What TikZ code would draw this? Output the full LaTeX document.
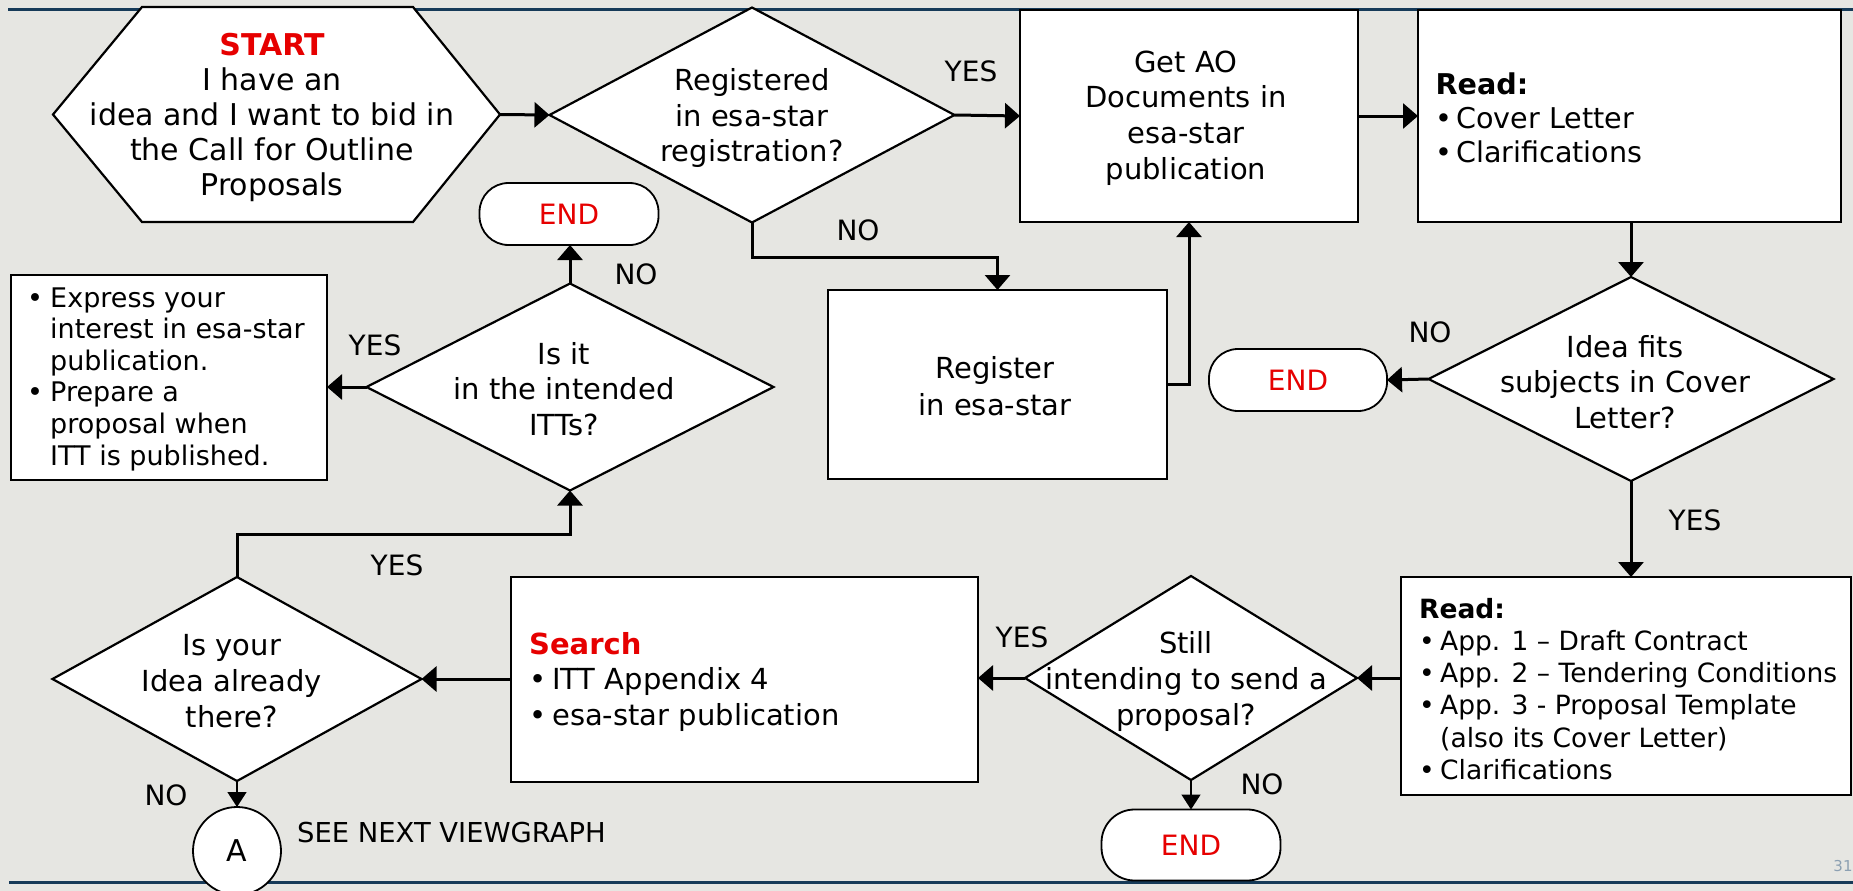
\documentclass[tikz,border=0pt]{standalone}
\usepackage{fontspec}
\setmainfont{DejaVu Sans}
\usetikzlibrary{shapes.geometric,arrows.meta}
\definecolor{bg}{RGB}{230,230,226}
\definecolor{esared}{RGB}{230,0,0}
\definecolor{rulecol}{RGB}{22,58,88}
\definecolor{pgnum}{RGB}{140,160,178}
\newcommand\fsz[2]{\fontsize{#1}{#2}\selectfont}
\newcommand\bul[1]{\makebox[#1][l]{•}}
\begin{document}
\begin{tikzpicture}[x=1pt,y=-1pt,
  box/.style={draw=black, fill=white, line width=2.2pt, inner sep=0pt, outer sep=0pt},
  dia/.style={box, diamond},
  term/.style={box, rounded corners=29pt, line width=1.8pt, font=\fsz{28}{34}, text=esared},
  conn/.style={line width=3pt, -{Triangle[length=15pt,width=25pt]}},
  thinconn/.style={line width=1.6pt, -{Triangle[length=15pt,width=19pt]}},
  txt/.style={inner sep=0pt, align=center, font=\fsz{29}{35.5}},
  ltxt/.style={inner sep=0pt, align=left, anchor=west, font=\fsz{29}{34}},
  lbl/.style={inner sep=0pt, font=\fsz{28}{34}},
]
\fill[bg] (0,0) rectangle (1853,891);
\useasboundingbox (0,0) rectangle (1853,891);
\draw[rulecol, line width=3pt] (8,10) -- (1853,10);
\draw[rulecol, line width=3pt] (9,882) -- (1853,882);

% START hexagon
\node[inner sep=0pt, outer sep=0pt, minimum width=447, minimum height=215] (start) at (276.5,114.5) {};
\draw[box] (start.west) -- ([xshift=89pt]start.north west) -- ([xshift=-87pt]start.north east)
  -- (start.east) -- ([xshift=-87pt]start.south east) -- ([xshift=89pt]start.south west) -- cycle;
\node[txt, font=\fsz{30}{35}] (startt) at (272,117)
  {{\bfseries\color{esared}START}\\I have an\\idea and I want to bid in\\the Call for Outline\\Proposals};

% Registered?
\node[dia, minimum width=405, minimum height=215] (d1) at (752,115) {};
\node[txt] (d1t) at (752,118) {Registered\\in esa-star\\registration?};

% Get AO documents
\node[box, minimum width=338, minimum height=212] (ao) at (1189,116) {};
\node[txt, font=\fsz{29}{35.7}] (aot) at (1186,118) {Get AO\\Documents in\\esa-star\\publication};

% Read 1
\node[box, minimum width=423, minimum height=212] (read1) at (1629.5,116) {};
\node[ltxt, font=\fsz{28.6}{34}] (read1t) at (1435.5,118)
  {\textbf{Read:}\\\bul{20.5pt}Cover Letter\\\bul{20.5pt}Clarifications};

% Idea fits?
\node[dia, minimum width=405, minimum height=204] (d2) at (1631,379) {};
\node[txt] (d2t) at (1625,382) {Idea fits\\subjects in Cover\\Letter?};
\node[term, minimum width=178, minimum height=62] (end2) at (1298,380) {END};

% Read 2
\node[box, minimum width=450, minimum height=218] (read2) at (1626,686) {};
\node[ltxt, font=\fsz{26.5}{32.2}] (read2t) at (1419,689)
  {\textbf{Read:}\\\bul{21pt}App. 1 – Draft Contract\\\bul{21pt}App. 2 – Tendering Conditions\\\bul{21pt}App. 3 - Proposal Template\\\hspace*{21pt}(also its Cover Letter)\\\bul{21pt}Clarifications};

% Still intending?
\node[dia, minimum width=332, minimum height=204] (d3) at (1191,678) {};
\node[txt, font=\fsz{29}{36}] (d3t) at (1186,681) {Still\\intending to send a\\proposal?};
\node[term, minimum width=179, minimum height=71, rounded corners=33pt] (end3) at (1191,845) {END};

% Search
\node[box, minimum width=467, minimum height=205] (search) at (744.5,679.5) {};
\node[ltxt, font=\fsz{29}{35.5}] (searcht) at (529,681.5)
  {{\bfseries\color{esared}Search}\\\bul{23pt}ITT Appendix 4\\\bul{23pt}esa-star publication};

% Is your idea already there?
\node[dia, minimum width=369, minimum height=204] (d4) at (237,679) {};
\node[txt, font=\fsz{29}{36}] (d4t) at (232,681) {Is your\\Idea already\\there?};
\node[box, circle, line width=1.8pt, minimum size=88, font=\fsz{30}{34}] (circA) at (237,851) {A};
\node[lbl, anchor=west, font=\fsz{27.4}{33}] (seenext) at (297,833) {SEE NEXT VIEWGRAPH};

% Is it in the intended ITTs?
\node[dia, minimum width=407, minimum height=207] (d5) at (570,387) {};
\node[txt] (d5t) at (564,389) {Is it\\in the intended\\ITTs?};
\node[term, minimum width=179, minimum height=62] (end1) at (569,214) {END};

% Express box
\node[box, minimum width=316, minimum height=205] (express) at (169,377.5) {};
\node[ltxt, font=\fsz{27}{31.6}] (expresst) at (27,379)
  {\bul{23pt}Express your\\\hspace*{23pt}interest in esa-star\\\hspace*{23pt}publication.\\\bul{23pt}Prepare a\\\hspace*{23pt}proposal when\\\hspace*{23pt}ITT is published.};

% Register
\node[box, minimum width=339, minimum height=189] (reg) at (997.5,384.5) {};
\node[txt, font=\fsz{29}{37}] (regt) at (995,386) {Register\\in esa-star};

% connectors
\draw[conn] (start.east) -- (d1.west);
\draw[conn] (d1.east) -- (ao.west);
\draw[conn] (ao.east) -- (read1.west);
\draw[conn] (read1.south -| d2.north) -- (d2.north);
\draw[conn] (d2.west) -- (end2.east);
\draw[conn] (d2.south) -- (read2.north -| d2.south);
\draw[conn] (read2.west |- d3.east) -- (d3.east);
\draw[conn] (d3.west) -- (search.east |- d3.west);
\draw[thinconn] (d3.south) -- (end3.north);
\draw[conn] (search.west |- d4.east) -- (d4.east);
\draw[thinconn] (d4.south) -- (circA.north);
\draw[conn] (d4.north) -- ++(0,-43) -| (d5.south);
\draw[conn] (d5.north) -- (d5.north |- end1.south);
\draw[conn] (d5.west) -- (express.east |- d5.west);
\draw[conn] (d1.south) -- ++(0,35) -| (reg.north);
\draw[conn] (reg.east) -- ++(22,0) -| (ao.south);

% labels
\node[lbl] (yes1) at (971,71) {YES};
\node[lbl] (no1) at (858,230) {NO};
\node[lbl] (yes2) at (1695,520) {YES};
\node[lbl] (no2) at (1430,332) {NO};
\node[lbl] (yes3) at (1022,637) {YES};
\node[lbl] (no3) at (1262,784) {NO};
\node[lbl] (yes4) at (397,565) {YES};
\node[lbl] (no4) at (166,795) {NO};
\node[lbl] (yes5) at (375,345) {YES};
\node[lbl] (no5) at (636,274) {NO};
\node[inner sep=0pt, text=pgnum, font=\fsz{15}{18}] (pg) at (1843,866) {31};
\end{tikzpicture}
\end{document}
